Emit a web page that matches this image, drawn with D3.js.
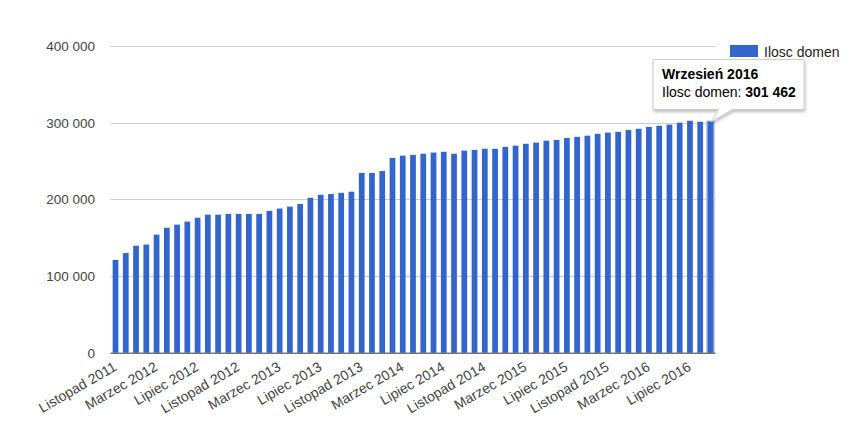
<!DOCTYPE html>
<html>
<head>
<meta charset="utf-8">
<script src="https://cdn.jsdelivr.net/npm/d3@7"></script>
<style>
  body { margin: 0; background: #fff; }
  svg { display: block; font-family: "Liberation Sans", Arial, sans-serif; }
</style>
</head>
<body>
<svg id="chart"></svg>
<script>
const months = [
  "Listopad 2011", "Grudzień 2011",
  "Styczeń 2012", "Luty 2012", "Marzec 2012", "Kwiecień 2012", "Maj 2012", "Czerwiec 2012",
  "Lipiec 2012", "Sierpień 2012", "Wrzesień 2012", "Październik 2012", "Listopad 2012", "Grudzień 2012",
  "Styczeń 2013", "Luty 2013", "Marzec 2013", "Kwiecień 2013", "Maj 2013", "Czerwiec 2013",
  "Lipiec 2013", "Sierpień 2013", "Wrzesień 2013", "Październik 2013", "Listopad 2013", "Grudzień 2013",
  "Styczeń 2014", "Luty 2014", "Marzec 2014", "Kwiecień 2014", "Maj 2014", "Czerwiec 2014",
  "Lipiec 2014", "Sierpień 2014", "Wrzesień 2014", "Październik 2014", "Listopad 2014", "Grudzień 2014",
  "Styczeń 2015", "Luty 2015", "Marzec 2015", "Kwiecień 2015", "Maj 2015", "Czerwiec 2015",
  "Lipiec 2015", "Sierpień 2015", "Wrzesień 2015", "Październik 2015", "Listopad 2015", "Grudzień 2015",
  "Styczeń 2016", "Luty 2016", "Marzec 2016", "Kwiecień 2016", "Maj 2016", "Czerwiec 2016",
  "Lipiec 2016", "Sierpień 2016", "Wrzesień 2016"
];

const domains = [
  121000, 130000,
  139500, 141000, 154000, 163000, 167000, 171000,
  176000, 180000, 180000, 181000, 181000, 181000,
  181000, 185000, 188000, 190500, 194000, 202000,
  206000, 207000, 208500, 210000, 234500, 234500,
  237000, 254000, 257000, 258000, 259500, 261000,
  262000, 259500, 263500, 264500, 266000, 266000,
  268500, 270000, 272500, 274000, 276500, 277500,
  280000, 281500, 283000, 285500, 287000, 288000,
  290500, 292000, 294500, 296000, 297500, 300000,
  302500, 301200, 301462
];

const tickLabels = [
  "Listopad 2011", "Marzec 2012", "Lipiec 2012", "Listopad 2012", "Marzec 2013",
  "Lipiec 2013", "Listopad 2013", "Marzec 2014", "Lipiec 2014", "Listopad 2014",
  "Marzec 2015", "Lipiec 2015", "Listopad 2015", "Marzec 2016", "Lipiec 2016"
];
const yTicks = [0, 100000, 200000, 300000, 400000];

const seriesName = "Ilosc domen";
const tooltipIndex = months.length - 1;

const width = 864;
const height = 443;
const plot = { left: 110.4, right: 715.6, top: 46, bottom: 352.7 };

const fmt = d3.formatLocale({ decimal: ",", thousands: " ", grouping: [3], currency: ["", ""] }).format(",d");

const svg = d3.select("#chart").attr("width", width).attr("height", height);

const x = d3.scaleBand()
  .domain(months)
  .range([plot.left, plot.right])
  .paddingInner(0.44)
  .paddingOuter(0.22);

const y = d3.scaleLinear()
  .domain([0, 400000])
  .range([plot.bottom, plot.top]);

// gridlines + y labels
svg.append("g")
  .selectAll("line")
  .data(yTicks.filter((d) => d > 0))
  .enter()
  .append("line")
  .attr("x1", plot.left)
  .attr("x2", plot.right)
  .attr("y1", (d) => Math.round(y(d)) + 0.5)
  .attr("y2", (d) => Math.round(y(d)) + 0.5)
  .style("stroke", "#cccccc")
  .style("stroke-width", 1);

svg.append("g")
  .selectAll("text")
  .data(yTicks)
  .enter()
  .append("text")
  .attr("x", 95)
  .attr("y", (d) => y(d))
  .attr("dy", "0.36em")
  .attr("text-anchor", "end")
  .style("font-size", "13.5px")
  .style("fill", "#444")
  .text((d) => fmt(d));

// hover halo on the tooltip bar
const hi = months[tooltipIndex];
svg.append("rect")
  .attr("x", x(hi) - 1.5)
  .attr("y", y(domains[tooltipIndex]) - 1)
  .attr("width", x.bandwidth() + 3)
  .attr("height", plot.bottom - y(domains[tooltipIndex]) + 1)
  .style("fill", "#b7c4e0");

// bars
svg.append("g")
  .selectAll("rect")
  .data(domains)
  .enter()
  .append("rect")
  .attr("x", (d, i) => x(months[i]))
  .attr("y", (d) => y(d))
  .attr("width", x.bandwidth())
  .attr("height", (d) => plot.bottom - y(d))
  .style("fill", "#3366cc");

// baseline
svg.append("line")
  .attr("x1", plot.left)
  .attr("x2", plot.right)
  .attr("y1", plot.bottom + 0.5)
  .attr("y2", plot.bottom + 0.5)
  .style("stroke", "#333")
  .style("stroke-width", 1);

// x labels, rotated
svg.append("g")
  .selectAll("text")
  .data(tickLabels)
  .enter()
  .append("text")
  .attr("transform", (d) => `translate(${x(d) + x.bandwidth() / 2 + 2},${plot.bottom + 17}) rotate(-30)`)
  .attr("text-anchor", "end")
  .style("font-size", "14px")
  .style("fill", "#444")
  .text((d) => d);

// legend
svg.append("rect")
  .attr("x", 730)
  .attr("y", 45)
  .attr("width", 28)
  .attr("height", 12)
  .style("fill", "#3366cc");
svg.append("text")
  .attr("x", 764)
  .attr("y", 56.5)
  .style("font-size", "14px")
  .style("fill", "#222")
  .text(seriesName);

// tooltip
const tipX = x(hi) + x.bandwidth() / 2;
const tipY = y(domains[tooltipIndex]);
const box = { x: 653, y: 59.5, w: 151, h: 50 };
const defs = svg.append("defs");
const filt = defs.append("filter").attr("id", "shadow").attr("x", "-20%").attr("y", "-20%").attr("width", "140%").attr("height", "160%");
filt.append("feDropShadow").attr("dx", 1).attr("dy", 2).attr("stdDeviation", 1.5).attr("flood-color", "#000").attr("flood-opacity", 0.25);

const tip = svg.append("g");
const b = box;
const pathD = [
  `M${b.x},${b.y}`,
  `H${b.x + b.w}`,
  `V${b.y + b.h}`,
  `H${tipX + 22}`,
  `L${tipX + 1},${tipY}`,
  `L${tipX + 8},${b.y + b.h}`,
  `H${b.x}`,
  "Z"
].join(" ");
tip.append("path")
  .attr("d", pathD)
  .style("fill", "#fff")
  .style("stroke", "#cccccc")
  .style("stroke-width", 1)
  .attr("filter", "url(#shadow)");

tip.append("text")
  .attr("x", 662)
  .attr("y", 79)
  .style("font-size", "14px")
  .style("font-weight", "bold")
  .style("fill", "#000")
  .text(months[tooltipIndex]);

const line2 = tip.append("text")
  .attr("x", 662)
  .attr("y", 97)
  .style("font-size", "14px")
  .style("fill", "#000");
line2.append("tspan").text(seriesName + ": ");
line2.append("tspan").style("font-weight", "bold").text(fmt(domains[tooltipIndex]));
</script>
</body>
</html>
